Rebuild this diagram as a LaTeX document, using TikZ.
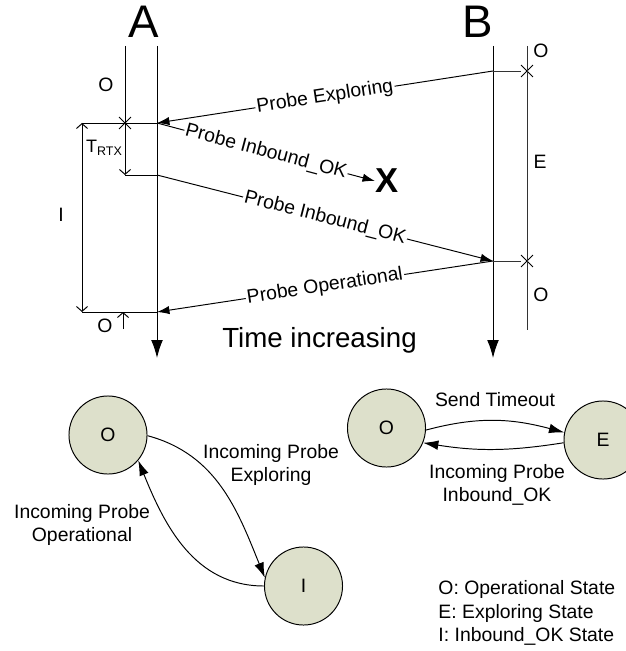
\documentclass[tikz,border=0pt]{standalone}
\usepackage{fontspec}
\setmainfont{Liberation Sans}
\usetikzlibrary{arrows.meta,shapes.misc}
\definecolor{stategreen}{RGB}{221,224,203}

\begin{document}
\begin{tikzpicture}[x=0.01in,y=0.01in,line width=0.7pt,
  msg/.style={-{Latex[length=9pt,width=6pt]}},
  msglabel/.style={font=\fontsize{14}{17}\selectfont,fill=white,inner sep=1pt,sloped,midway},
  life/.style={-{Latex[length=13pt,width=8.5pt]}},
  barb/.style={-{Straight Barb[length=3.5pt,width=8pt]}},
  dimline/.style={{Straight Barb[length=3.5pt,width=8pt]}-{Straight Barb[length=3.5pt,width=8pt]}},
  tick/.style={draw,cross out,minimum size=0.11in,inner sep=0pt},
  lbl/.style={font=\fontsize{14}{17}\selectfont},
  state/.style={circle,draw,fill=stategreen,minimum size=0.78in,inner sep=0pt,font=\fontsize{14}{17}\selectfont},
  trans/.style={-{Latex[length=11pt,width=7pt]}}]
\useasboundingbox (0,0) rectangle (626,-651);
\node[font=\fontsize{33}{36}\selectfont,anchor=base] (A) at (143.5,-38) {A};
\node[font=\fontsize{33}{36}\selectfont,anchor=base] (B) at (478,-38) {B};
\coordinate (aL0) at (125,-46);
\coordinate (aL1) at (125,-175);
\coordinate (aR0) at (157,-46);
\coordinate (aR1) at (157,-358);
\coordinate (aPE) at (157,-123);
\coordinate (aPI) at (157,-175);
\coordinate (aPO) at (157,-312);
\coordinate (dI0) at (82,-123);
\coordinate (dI1) at (82,-312);
\coordinate (oUp0) at (123,-329);
\coordinate (oUp1) at (123,-312);
\coordinate (bL0) at (493,-46);
\coordinate (bL1) at (493,-358);
\coordinate (bS0) at (527,-46);
\coordinate (bS1) at (527,-330);
\coordinate (bPE) at (493,-71);
\coordinate (bPO) at (493,-261);
\node[tick] (xA) at (125,-123) {};
\node[tick] (xB1) at (527,-71) {};
\node[tick] (xB2) at (527,-261) {};
\draw[barb] (aL0) -- (aL1);
\draw[life] (aR0) -- (aR1);
\draw (dI0) -- (aPE);
\draw (aL1) -- (aPI);
\draw (dI1) -- (aPO);
\draw[dimline] (dI0) -- (dI1);
\draw[barb] (oUp0) -- (oUp1);
\draw[life] (bL0) -- (bL1);
\draw[black!80] (bS0) -- (bS1);
\draw[black!80] (bPE) -- (xB1);
\draw[black!80] (bPO) -- (xB2);
\node[font=\bfseries\fontsize{25}{28}\selectfont,inner sep=0pt] (lost) at (387,-181) {X};
\draw[msg] (bPE) -- node[msglabel] {Probe Exploring} (aPE);
\draw[msg] (aPE) -- node[msglabel] {Probe Inbound\_OK} (lost.west);
\draw[msg] (aPI) -- node[msglabel] {Probe Inbound\_OK} (bPO);
\draw[msg] (bPO) -- node[msglabel] {Probe Operational} (aPO);
\node[lbl] (oA1) at (106,-85) {O};
\node[lbl] (iA) at (61,-215) {I};
\node[lbl] (oA2) at (105,-326) {O};
\node[font=\fontsize{13}{15}\selectfont] (trtx) at (104,-148) {T\raisebox{-2pt}{\fontsize{9}{11}\selectfont RTX}};
\node[lbl] (oB1) at (541,-51) {O};
\node[lbl] (eB) at (540,-162) {E};
\node[lbl] (oB2) at (541,-295) {O};
\node[font=\fontsize{20}{24}\selectfont,anchor=base] (time) at (319.5,-347) {Time increasing};
\node[state] (sO1) at (108,-435) {O};
\node[state] (sI) at (303.5,-586) {I};
\node[state] (sO2) at (386.5,-428) {O};
\node[state] (sE) at (603,-440) {E};
\draw[trans] (sO1.-1) to[out=-15,in=112] (sI.168);
\draw[trans] (sI.180) to[out=180,in=-68] (sO1.-40);
\draw[trans] (sO2.-3) to[out=15,in=165] (sE.169);
\draw[trans] (sE.184) to[out=189,in=-9] (sO2.-22);
\node[lbl,align=center] (tOI) at (271,-465) {Incoming Probe\\Exploring};
\node[lbl,align=center] (tIO) at (82,-525) {Incoming Probe\\Operational};
\node[lbl] (tOE) at (495,-400) {Send Timeout};
\node[lbl,align=center] (tEO) at (497,-485) {Incoming Probe\\Inbound\_OK};
\node[lbl,align=left,anchor=north west,inner sep=0pt] (legend) at (438,-580) {O: Operational State\\E: Exploring State\\I: Inbound\_OK State};
\end{tikzpicture}
\end{document}
